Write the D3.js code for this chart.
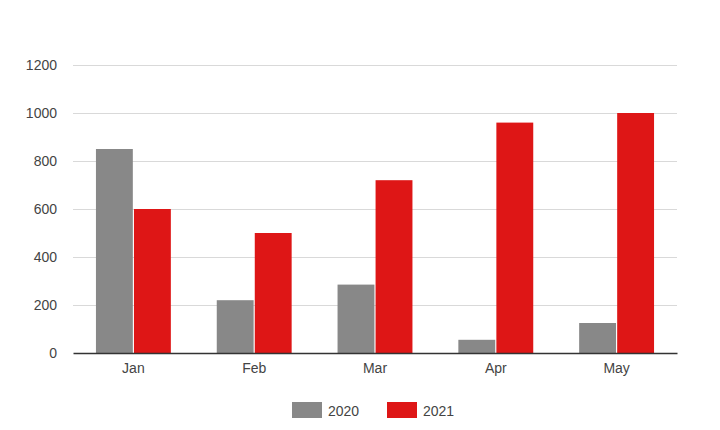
<!DOCTYPE html>
<html><head><meta charset="utf-8">
<script src="https://cdn.jsdelivr.net/npm/d3@7"></script>
<style>body{margin:0;background:#fff;}svg{display:block;font-family:Arial,"Liberation Sans",sans-serif;}</style>
</head><body>
<svg id="c" width="720" height="430"></svg>
<script>
const categories = ["Jan","Feb","Mar","Apr","May"];
const seriesNames = ["2020","2021"];
const values2020 = [850,220,285,55,125];
const values2021 = [600,500,720,960,1000];
const yTicks = [0,200,400,600,800,1000,1200];
const colors = ["#888888","#de1616"];

(function(){
const svg = d3.select("#c");
const mLeft = 73, mRight = 677, mTop = 65, mBottom = 353;
const FONT = "Arial,'Liberation Sans',sans-serif";
const x = d3.scaleBand().domain(categories).range([mLeft,mRight]).paddingInner(0.38).paddingOuter(0.19);
const y = d3.scaleLinear().domain([0,1200]).range([mBottom,mTop]);
const inner = d3.scaleBand().domain(seriesNames).range([0,x.bandwidth()]).paddingInner(0.03);

svg.append("g").selectAll("line").data(yTicks.filter(d=>d>0)).join("line")
  .attr("x1",mLeft).attr("x2",mRight).attr("y1",d=>Math.round(y(d))+0.5).attr("y2",d=>Math.round(y(d))+0.5)
  .attr("stroke","#d9d9d9").attr("stroke-width",1);

const yAxis = d3.axisLeft(y).tickValues(yTicks).tickFormat(d3.format("d")).tickSize(0).tickPadding(16);
const gy = svg.append("g").attr("transform",`translate(${mLeft},0)`).call(yAxis);
gy.select(".domain").remove();
gy.selectAll("text").attr("font-size",14).attr("fill","#444").attr("font-family",FONT);

const data = categories.map((c,i)=>({c, vals:[values2020[i],values2021[i]]}));
const groups = svg.append("g").selectAll("g").data(data).join("g")
  .attr("transform",d=>`translate(${x(d.c)},0)`);
groups.selectAll("rect").data(d=>d.vals.map((v,j)=>({s:seriesNames[j],v,j}))).join("rect")
  .attr("x",d=>inner(d.s)).attr("width",inner.bandwidth())
  .attr("y",d=>y(d.v)).attr("height",d=>mBottom-y(d.v))
  .attr("fill",d=>colors[d.j]);

const xAxis = d3.axisBottom(x).tickSize(0).tickPadding(10);
const gx = svg.append("g").attr("transform",`translate(0,${mBottom})`).call(xAxis);
gx.select(".domain").attr("stroke","#333").attr("stroke-width",1.3);
gx.selectAll("text").attr("font-size",14).attr("fill","#444").attr("font-family",FONT);

const legendX = [292,387];
const lg = svg.append("g").selectAll("g").data(seriesNames).join("g")
  .attr("transform",(d,i)=>`translate(${legendX[i]},402)`);
lg.append("rect").attr("width",30).attr("height",16).attr("fill",(d,i)=>colors[i]);
lg.append("text").attr("x",36).attr("y",13.5).attr("font-size",14).attr("fill","#444").attr("font-family",FONT).text(d=>d);
})();
</script>
</body></html>
